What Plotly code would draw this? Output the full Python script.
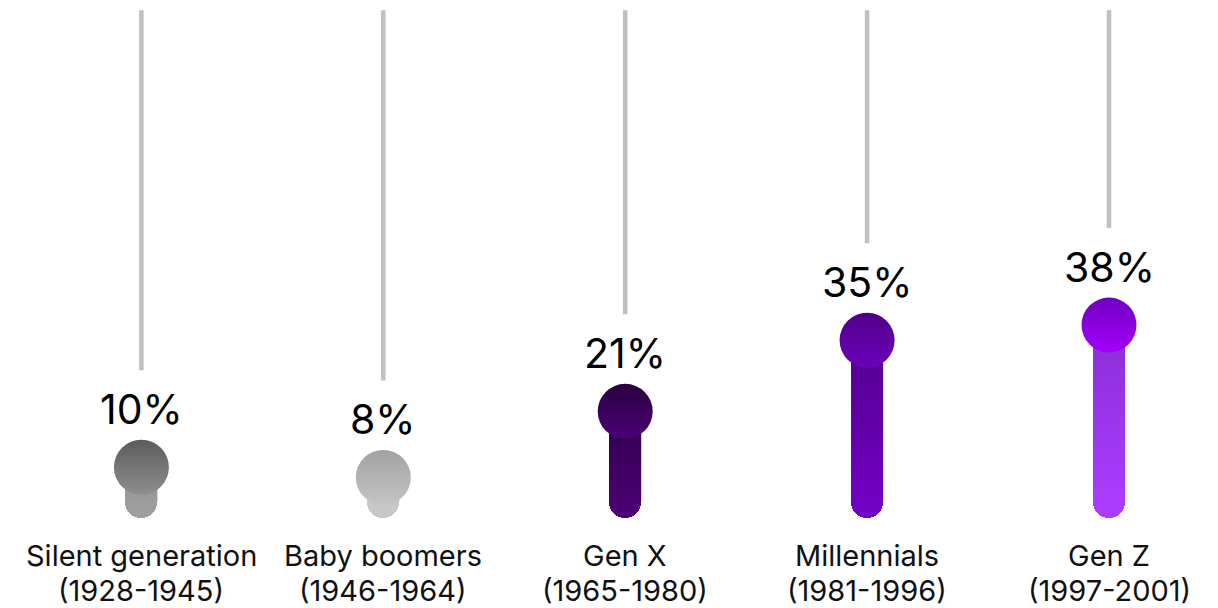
import plotly.graph_objects as go

categories = ["Silent generation", "Baby boomers", "Gen X", "Millennials", "Gen Z"]
years = ["(1928-1945)", "(1946-1964)", "(1965-1980)", "(1981-1996)", "(1997-2001)"]
values = [10, 8, 21, 35, 38]
track_max = 100

circle_top = ["#5c5c5c", "#a2a2a2", "#2a0042", "#50008a", "#7000c2"]
circle_bottom = ["#8e8e8e", "#c4c4c4", "#4c0074", "#6c00ba", "#a200fa"]
bar_top = ["#8a8a8a", "#b6b6b6", "#2e0048", "#52008c", "#8a2ed6"]
bar_bottom = ["#9e9e9e", "#c8c8c8", "#4a0072", "#7200c4", "#aa3cff"]

W, H = 1218, 608
PAGE_OFF = 8  # browser body margin
MB = 98
plot_h = H - MB
px_per_unit = 5.078
y_top = plot_h / px_per_unit
x_step = 241.9
x0_px = 141.4 - PAGE_OFF
bar_w_px = 32
bar_w = bar_w_px / x_step
cap = (bar_w_px / 2) / px_per_unit
gap = 97 / px_per_unit

fig = go.Figure()
xs = list(range(len(categories)))

# gray tracks
for i, v in enumerate(values):
    fig.add_trace(go.Scatter(x=[i, i], y=[v + gap, track_max], mode="lines",
                             line=dict(color="#c0c0c0", width=4.5),
                             cliponaxis=False, hoverinfo="skip", showlegend=False))

# rounded bars (rounded end at zero)
fig.add_trace(go.Bar(x=xs, y=[-v for v in values], base=values, width=bar_w,
                     marker=dict(color=bar_bottom, cornerradius=bar_w_px / 2, line=dict(width=0)),
                     hoverinfo="skip", showlegend=False))

# gradient body of bars
for i, v in enumerate(values):
    hw = bar_w / 2
    fig.add_trace(go.Scatter(x=[i - hw, i + hw, i + hw, i - hw, i - hw],
                             y=[cap, cap, v, v, cap], mode="lines", fill="toself",
                             line=dict(width=0, color="rgba(0,0,0,0)"),
                             fillgradient=dict(type="vertical",
                                               colorscale=[[0, bar_bottom[i]], [1, bar_top[i]]]),
                             hoverinfo="skip", showlegend=False))

# circles
for i, v in enumerate(values):
    fig.add_trace(go.Scatter(x=[i], y=[v], mode="markers",
                             marker=dict(size=55, color=circle_top[i],
                                         gradient=dict(type="vertical", color=circle_bottom[i]),
                                         line=dict(width=0)),
                             cliponaxis=False, hoverinfo="skip", showlegend=False))

for i, v in enumerate(values):
    fig.add_annotation(x=i, y=v, text=f"{v}%", showarrow=False, yanchor="middle",
                       yshift=58, font=dict(size=41, color="#000000", family="Inter"))
    fig.add_annotation(x=i, y=0, yref="paper", text=categories[i],
                       showarrow=False, yanchor="middle", yshift=-37,
                       font=dict(size=29, color="#111111", family="Inter"))
    fig.add_annotation(x=i, y=0, yref="paper", text=years[i],
                       showarrow=False, yanchor="middle", yshift=-72,
                       font=dict(size=29, color="#111111", family="Inter"))

fig.update_layout(
    width=W, height=H, margin=dict(l=0, r=0, t=0, b=MB),
    paper_bgcolor="white", plot_bgcolor="white",
    xaxis=dict(range=[-x0_px / x_step, (W - x0_px) / x_step], visible=False, fixedrange=True),
    yaxis=dict(range=[0, y_top], visible=False, fixedrange=True),
    bargap=0,
)
fig.write_html("out.html")
